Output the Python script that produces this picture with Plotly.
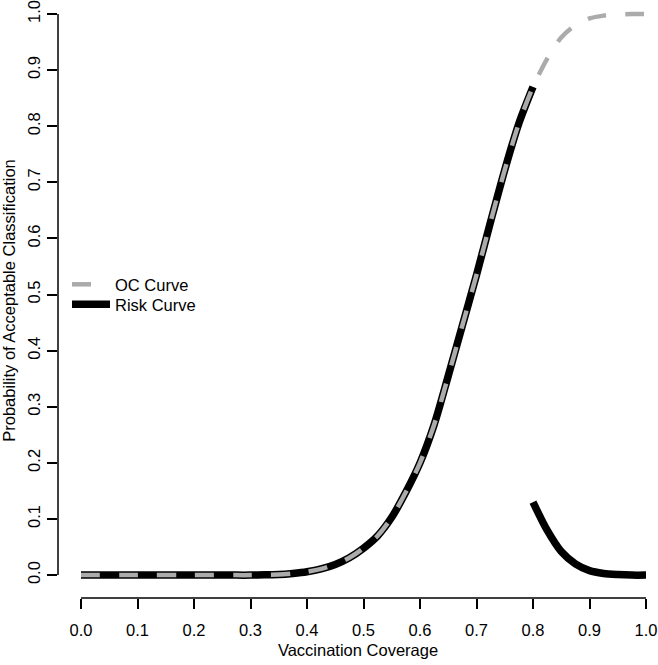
import plotly.graph_objects as go

# ---- data ----
coverage_left = [0.000, 0.025, 0.050, 0.075, 0.100, 0.125, 0.150, 0.175, 0.200, 0.225,
                 0.250, 0.275, 0.300, 0.325, 0.350, 0.375, 0.400, 0.425, 0.450, 0.475,
                 0.500, 0.525, 0.550, 0.575, 0.600, 0.625, 0.650, 0.675, 0.700, 0.725,
                 0.750, 0.775, 0.800]
coverage_right = [0.800, 0.825, 0.850, 0.875, 0.900, 0.925, 0.950, 0.975, 1.000]

oc_left = [0.000, 0.000, 0.000, 0.000, 0.000, 0.000, 0.000, 0.000, 0.000, 0.000,
           0.000, 0.000, 0.000, 0.0005, 0.001, 0.003, 0.006, 0.011, 0.019, 0.031,
           0.048, 0.070, 0.103, 0.148, 0.200, 0.268, 0.355, 0.445, 0.535, 0.630,
           0.722, 0.805, 0.870]
oc_right = [0.870, 0.920, 0.958, 0.980, 0.992, 0.997, 0.999, 1.000, 1.000]

risk_left = oc_left
risk_right = [0.130, 0.080, 0.042, 0.020, 0.008, 0.003, 0.001, 0.000, 0.000]

x_ticks = [0.0, 0.1, 0.2, 0.3, 0.4, 0.5, 0.6, 0.7, 0.8, 0.9, 1.0]
y_ticks = [0.0, 0.1, 0.2, 0.3, 0.4, 0.5, 0.6, 0.7, 0.8, 0.9, 1.0]
x_title = "Vaccination Coverage"
y_title = "Probability of Acceptable Classification"
series_names = ["OC Curve", "Risk Curve"]

# ---- layout geometry ----
W, H = 658, 665
L, R, T, B = 58, 0, 0, 67
x0_px, x_unit = 81, 565     # pixel of x=0 and pixels per unit
y0_px, y_unit = 575, 564    # pixel of y=0 and pixels per unit
xr = [(L - x0_px) / x_unit, (W - R - x0_px) / x_unit]
yr = [(y0_px - (H - B)) / y_unit, (y0_px - T) / y_unit]
PW, PH = W - L - R, H - T - B

FONT = "Liberation Sans, Arial, Helvetica, sans-serif"
GRAY = "#ABABAB"

fig = go.Figure()
fig.add_trace(go.Scatter(
    x=coverage_left + [None] + coverage_right,
    y=risk_left + [None] + risk_right,
    mode="lines", name=series_names[1], legend="legend2",
    line=dict(color="black", width=7.5, shape="spline", smoothing=0.8), connectgaps=False,
    hoverinfo="skip"))
fig.add_trace(go.Scatter(
    x=coverage_left + coverage_right[1:],
    y=oc_left + oc_right[1:],
    mode="lines", name=series_names[0], legend="legend",
    line=dict(color=GRAY, width=4.5, dash="19px,19px", shape="spline", smoothing=0.8),
    hoverinfo="skip"))

axis_common = dict(
    showgrid=False, zeroline=False, showline=False,
    ticks="outside", ticklen=10, tickwidth=1.5, tickcolor="black",
    tickfont=dict(family=FONT, size=16.5, color="black"),
    tickformat=".1f", ticklabeloverflow="allow",
)

fig.update_xaxes(range=xr, tickvals=x_ticks, ticklabelstandoff=7,
                 title=dict(text=x_title, font=dict(family=FONT, size=16.5, color="black"), standoff=6),
                 **axis_common)
fig.update_yaxes(range=yr, tickvals=y_ticks, tickangle=-90, ticklabelstandoff=0,
                 title=dict(text=y_title, font=dict(family=FONT, size=16.5, color="black"), standoff=6),
                 **axis_common)

# R-style axis lines spanning only the tick range
fig.add_shape(type="line", xref="x", yref="paper", x0=x_ticks[0], x1=x_ticks[-1], y0=0, y1=0,
              line=dict(color="black", width=1.5))
fig.add_shape(type="line", xref="paper", yref="y", x0=0, x1=0, y0=y_ticks[0], y1=y_ticks[-1],
              line=dict(color="black", width=1.5))

legend_common = dict(xanchor="left", yanchor="middle", bgcolor="rgba(0,0,0,0)", borderwidth=0,
                     font=dict(family=FONT, size=16.5, color="black"), itemwidth=38)
fig.update_layout(
    width=W, height=H,
    margin=dict(l=L, r=R, t=T, b=B, pad=0),
    paper_bgcolor="white", plot_bgcolor="white",
    showlegend=True,
    legend=dict(x=(72 - 5 - L) / PW, y=1 - (283 - T) / PH, **legend_common),
    legend2=dict(x=(72 - 5 - L) / PW, y=1 - (303 - T) / PH, **legend_common),
)

fig.write_html("out.html", config={"displayModeBar": False},
               post_script="document.body.style.margin='0';document.body.style.padding='0';")
